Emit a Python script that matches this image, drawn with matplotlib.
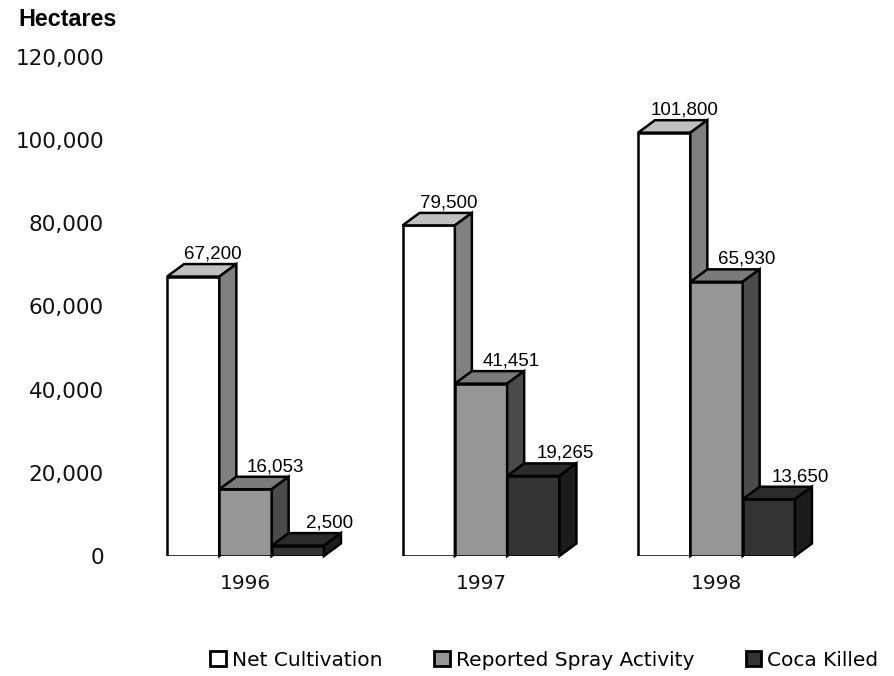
"""
Coca cultivation vs. spray activity, 1996-1998 (pseudo-3D bar chart).
"""

import matplotlib
matplotlib.use("Agg")
import matplotlib.pyplot as plt
from matplotlib.patches import Patch, Polygon
from matplotlib.ticker import StrMethodFormatter

years = ["1996", "1997", "1998"]
net_cultivation = [67200, 79500, 101800]
spray_activity = [16053, 41451, 65930]
coca_killed = [2500, 19265, 13650]

series_names = ["Net Cultivation", "Reported Spray Activity", "Coca Killed"]
y_ticks = [0, 20000, 40000, 60000, 80000, 100000, 120000]

# front / top / side shades for each series
FACES = [
    ("#FFFFFF", "#C0C0C0", "#808080"),
    ("#969696", "#7A7A7A", "#4B4B4B"),
    ("#333333", "#2B2B2B", "#1C1C1C"),
]
LABEL_DX = [20, 30, 32]  # label shift (px) to the right of bar centre
EDGE_LW = 1.8

W_PX, H_PX = 894, 676
fig = plt.figure(figsize=(W_PX / 100, H_PX / 100), dpi=100)

# axes placed in pixel terms: x 130..860, y(0)=556, y(120000)=57
ax_left, ax_right, ax_bottom, ax_top = 130, 860, 556, 57
ax = fig.add_axes([
    ax_left / W_PX,
    (H_PX - ax_bottom) / H_PX,
    (ax_right - ax_left) / W_PX,
    (ax_bottom - ax_top) / H_PX,
])

px_per_x = 235.5
x_min = (ax_left - 245.5) / px_per_x
x_max = (ax_right - 245.5) / px_per_x
ax.set_xlim(x_min, x_max)
ax.set_ylim(0, 120000)
px_per_y = (ax_bottom - ax_top) / 120000

bar_w = 52.3 / px_per_x
depth_x = 17 / px_per_x
depth_y = 12.5 / px_per_y

values = [net_cultivation, spray_activity, coca_killed]
for i, (vals, (front, top, side)) in enumerate(zip(values, FACES)):
    xs = [g + (i - 1) * bar_w for g in range(len(years))]
    ax.bar(xs, vals, width=bar_w, color=front, edgecolor="black",
           linewidth=EDGE_LW, zorder=2 + i)
    for xc, h in zip(xs, vals):
        x0, x1 = xc - bar_w / 2, xc + bar_w / 2
        ax.add_patch(Polygon(
            [(x0, h), (x1, h), (x1 + depth_x, h + depth_y), (x0 + depth_x, h + depth_y)],
            closed=True, facecolor=top, edgecolor="black", linewidth=EDGE_LW,
            joinstyle="miter", zorder=2 + i, clip_on=False))
        ax.add_patch(Polygon(
            [(x1, 0), (x1 + depth_x, depth_y), (x1 + depth_x, h + depth_y), (x1, h)],
            closed=True, facecolor=side, edgecolor="black", linewidth=EDGE_LW,
            joinstyle="miter", zorder=2 + i, clip_on=False))
        ax.annotate(f"{h:,}", xy=(xc, h),
                    xytext=(LABEL_DX[i] * 0.72, 18 * 0.72),
                    textcoords="offset points", ha="center", va="baseline",
                    fontsize=13.5, family="Liberation Sans", zorder=10)

for s in ax.spines.values():
    s.set_visible(False)
ax.patch.set_alpha(0)

ax.set_yticks(y_ticks)
ax.yaxis.set_major_formatter(StrMethodFormatter("{x:,.0f}"))
ax.set_xticks(range(len(years)))
ax.set_xticklabels(years)
ax.tick_params(axis="y", length=0, pad=26 * 0.72, labelsize=15.5)
ax.tick_params(axis="x", length=0, pad=13, labelsize=14.5)
for lab in ax.get_yticklabels() + ax.get_xticklabels():
    lab.set_family("DejaVu Sans")
    lab.set_color("#111111")

fig.text(18 / W_PX, 1 - 26 / H_PX, "Hectares", fontsize=16.8,
         fontweight="bold", family="Liberation Sans", va="baseline", ha="left")

handles = [Patch(facecolor=f[0], edgecolor="black", linewidth=2.0) for f in FACES]
fig.legend(handles, series_names, loc="center", ncol=3, frameon=False,
           bbox_to_anchor=(544.5 / W_PX, 1 - 660 / H_PX),
           prop={"family": "DejaVu Sans", "size": 14.5},
           handlelength=0.75, handleheight=0.75, handletextpad=0.3,
           columnspacing=2.6, borderpad=0, borderaxespad=0)

fig.savefig("out.png", dpi=100)
